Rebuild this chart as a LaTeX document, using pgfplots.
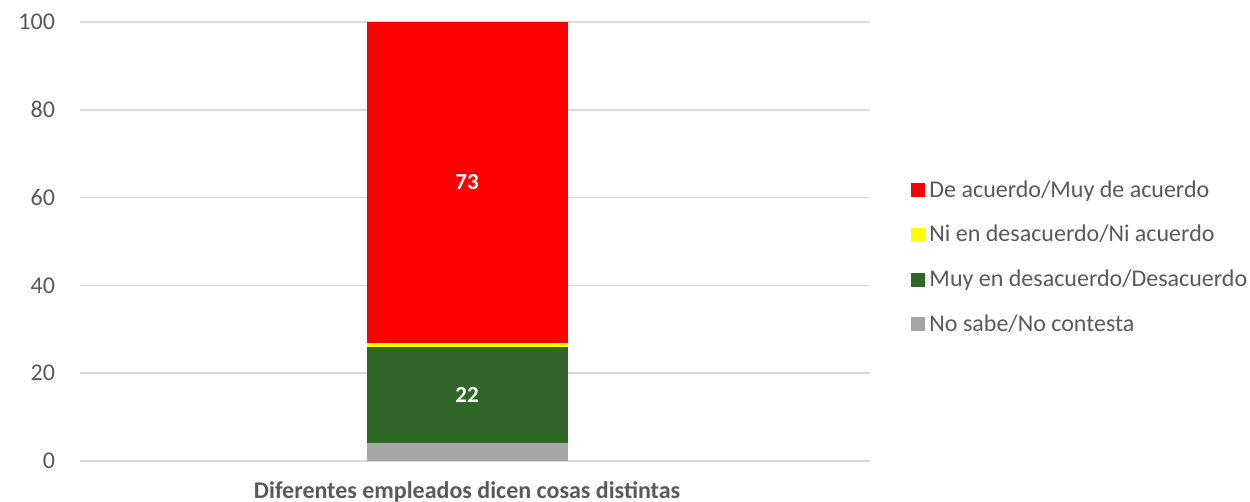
\documentclass[border=0pt]{standalone}
\usepackage{pgfplots}
\pgfplotsset{compat=1.18}
\usepackage{fontspec}
\setmainfont{Carlito}
\definecolor{txt}{HTML}{595959}
\definecolor{grd}{HTML}{D9D9D9}
\definecolor{cred}{HTML}{FF0000}
\definecolor{cyel}{HTML}{FFFF00}
\definecolor{cgrn}{HTML}{316629}
\definecolor{cgry}{HTML}{A5A5A5}
\begin{document}
\begin{tikzpicture}
\useasboundingbox (0,0) rectangle (625pt,251pt);
\begin{axis}[
  at={(40pt,20.5pt)}, anchor=south west,
  scale only axis, width=395pt, height=219.5pt,
  ybar stacked, bar width=100.5pt,
  xmin=-1, xmax=1, ymin=0, ymax=100,
  ytick={0,20,40,60,80,100},
  xtick={-0.02}, xticklabels={Diferentes empleados dicen cosas distintas},
  axis line style={draw=none},
  major tick length=0pt,
  ymajorgrids, grid style={grd, line width=0.75pt},
  /pgf/number format/assume math mode=true,
  yticklabel style={xshift=-9pt, font=\fontsize{12}{14}\selectfont, text=txt},
  xticklabel style={yshift=-7pt, font=\fontsize{12}{14}\selectfont\bfseries, text=txt},
  legend style={at={(1.052,0.4636)}, anchor=west, draw=none, fill=none,
    inner sep=0pt, row sep=8.5pt, font=\fontsize{12}{14}\selectfont, text=txt,
    cells={anchor=west}},
  reverse legend,
  legend image code/.code={\fill[#1] (0pt,-3.5pt) rectangle (7pt,3.5pt);},
]
\addplot[fill=cgry, draw=none] coordinates {(-0.02,4.1)};
\addlegendentry{No sabe/No contesta}
\addplot[fill=cgrn, draw=none] coordinates {(-0.02,21.9)};
\addlegendentry{Muy en desacuerdo/Desacuerdo}
\addplot[fill=cyel, draw=none] coordinates {(-0.02,0.9)};
\addlegendentry{Ni en desacuerdo/Ni acuerdo}
\addplot[fill=cred, draw=none] coordinates {(-0.02,73.1)};
\addlegendentry{De acuerdo/Muy de acuerdo}
\coordinate (lg) at (axis cs:-0.02,15);
\coordinate (lr) at (axis cs:-0.02,63.5);
\end{axis}
\node[text=white, font=\fontsize{11.5}{13}\selectfont\bfseries] at (lg) {22};
\node[text=white, font=\fontsize{11.5}{13}\selectfont\bfseries] at (lr) {73};
\end{tikzpicture}
\end{document}
